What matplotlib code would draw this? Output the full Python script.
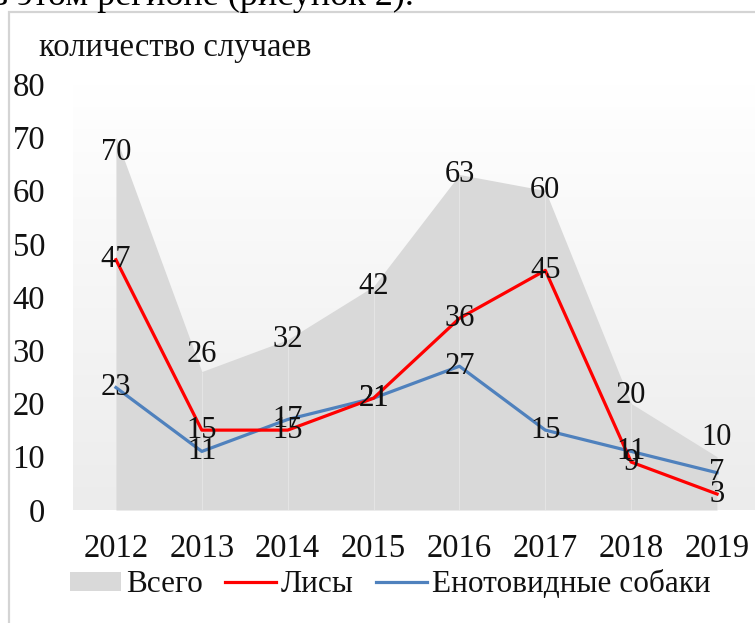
#!/usr/bin/env python3
"""
Rabies cases by year: total (area) with foxes and raccoon dogs (lines).
"""
import numpy as np
import matplotlib.pyplot as plt
from matplotlib.patches import Patch, Rectangle
from matplotlib.lines import Line2D
from matplotlib.colors import LinearSegmentedColormap

years = ['2012', '2013', '2014', '2015', '2016', '2017', '2018', '2019']
total = [70, 26, 32, 42, 63, 60, 20, 10]
foxes = [47, 15, 15, 21, 36, 45, 9, 3]
raccoon_dogs = [23, 11, 17, 21, 27, 15, 11, 7]
y_ticks = [0, 10, 20, 30, 40, 50, 60, 70, 80]

W, H = 755, 623
plt.rcParams['font.family'] = ['Liberation Serif', 'DejaVu Serif']

fig = plt.figure(figsize=(W / 100, H / 100), dpi=100)

# cut-off line of the surrounding document
fig.text(-0.012, 1 - 5 / H, 'в этом регионе (рисунок 2).', fontsize=26,
         va='baseline', ha='left', color='black')

# chart frame
fig.patches.append(Rectangle((9 / W, -0.1), 1.2, 1 - 12 / H + 0.1,
                             transform=fig.transFigure, fill=False,
                             edgecolor='#d4d4d4', linewidth=1.6, zorder=0))

ax = fig.add_axes([73 / W, 1 - 510 / H, (760 - 73) / W, (510 - 84) / H])
x = np.arange(len(years))
ax.set_xlim(-0.5, len(years) - 0.5)
ax.set_ylim(0, 80)

# plot-area gradient
grad = np.linspace(1, 0, 256).reshape(-1, 1)
cmap = LinearSegmentedColormap.from_list('bg', ['#ececec', '#ffffff'])
ax.imshow(grad, cmap=cmap, extent=(-0.5, len(years) - 0.5, 0, 80),
          aspect='auto', zorder=0, vmin=0, vmax=1, origin='upper')

ax.fill_between(x, total, 0, color='#d9d9d9', linewidth=0, zorder=1)
ax.vlines(x[1:], 0, total[1:], color='#e4e4e4', linewidth=0.8, zorder=1.5)
ax.plot(x, foxes, color='#ff0000', linewidth=2.3, zorder=3)
ax.plot(x, raccoon_dogs, color='#4f81bd', linewidth=2.3, zorder=2)

lab = dict(fontsize=22, color='#111111', ha='center', va='center', zorder=4,
           textcoords='offset points')
total_off = [-11, 12, 0, 0, 0, 0, 6, 14]
for xi, v, dy in zip(x, total, total_off):
    ax.annotate(str(v), (xi, v), xytext=(0, dy), **lab)
for xi, v in zip(x, foxes):
    ax.annotate(str(v), (xi, v), xytext=(0, 0), **lab)
for xi, v in zip(x, raccoon_dogs):
    ax.annotate(str(v), (xi, v), xytext=(0, 0), **lab)

ax.set_xticks(x, years)
ax.set_yticks(y_ticks)
ax.tick_params(axis='both', length=0, labelsize=23.5, colors='#111111')
ax.tick_params(axis='y', pad=20)
ax.tick_params(axis='x', pad=17)
for s in ax.spines.values():
    s.set_visible(False)

fig.text(39 / W, 1 - 48 / H, 'количество случаев', fontsize=23.5,
         va='center', ha='left', color='#111111')

handles = [Patch(facecolor='#d9d9d9', edgecolor='none'),
           Line2D([], [], color='#ff0000', linewidth=2.3),
           Line2D([], [], color='#4f81bd', linewidth=2.3)]
fig.legend(handles, ['Всего', 'Лисы', 'Енотовидные собаки'], ncol=3,
           loc='center', bbox_to_anchor=(390 / W, 1 - 585 / H),
           frameon=False, fontsize=22.5, handlelength=1.65, handleheight=0.55,
           handletextpad=0.15, columnspacing=0.7, labelcolor='#111111')

fig.savefig('out.png', dpi=100)
